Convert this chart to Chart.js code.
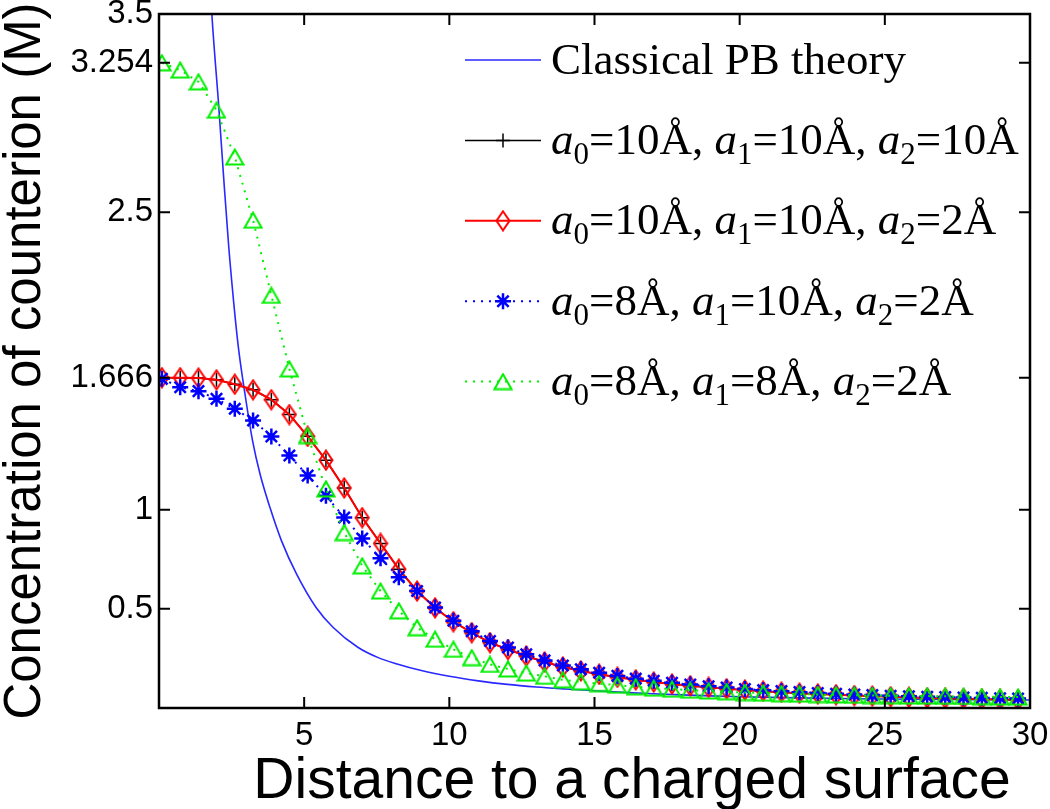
<!DOCTYPE html>
<html>
<head>
<meta charset="utf-8">
<script src="https://cdn.jsdelivr.net/npm/chart.js@4.4.0/dist/chart.umd.min.js"></script>
<style>
html,body{margin:0;padding:0;background:#fff;}
#wrap{width:1050px;height:809px;}
</style>
</head>
<body>
<div id="wrap"><canvas id="c" width="1050" height="809"></canvas></div>
<script>
// ---------- data ----------
const xMarkers = [0.10,0.73,1.36,1.98,2.61,3.24,3.87,4.49,5.12,5.75,6.38,7.00,7.63,8.26,8.89,9.51,
  10.14,10.77,11.40,12.02,12.65,13.28,13.91,14.53,15.16,15.79,16.42,17.04,17.67,18.30,18.93,19.55,
  20.18,20.81,21.44,22.06,22.69,23.32,23.95,24.57,25.20,25.83,26.46,27.08,27.71,28.34,28.97,29.59];

const pbX = [1.6,1.82,2.06,2.22,2.4,2.63,2.75,2.96,3.22,3.48,3.82,4.22,4.74,5.41,6.0,6.86,7.55,8.2,
  9.0,10,11,12,13,14,15,16,17,18,19,20,22,24,26,28,30];
const pbY = [4.1,3.5,3.03,2.69,2.33,1.96,1.80,1.585,1.35,1.18,1.012,0.843,0.675,0.507,0.406,0.305,0.254,0.222,
  0.19,0.16,0.137,0.119,0.106,0.096,0.087,0.079,0.072,0.066,0.061,0.057,0.051,0.047,0.044,0.042,0.04];

const seriesBlack = [1.666,1.666,1.664,1.655,1.633,1.605,1.555,1.48,1.37,1.25,1.11,0.96,0.83,0.70,0.59,0.505,
  0.435,0.38,0.33,0.295,0.262,0.232,0.207,0.187,0.17,0.155,0.142,0.131,0.121,0.112,0.104,0.097,
  0.091,0.085,0.08,0.075,0.071,0.067,0.063,0.06,0.057,0.054,0.051,0.049,0.047,0.045,0.043,0.041];
const seriesRed = [1.666,1.666,1.664,1.655,1.633,1.605,1.555,1.48,1.37,1.25,1.11,0.96,0.83,0.70,0.59,0.505,
  0.435,0.38,0.33,0.295,0.262,0.232,0.207,0.187,0.17,0.155,0.142,0.131,0.121,0.112,0.104,0.097,
  0.091,0.085,0.08,0.075,0.071,0.067,0.063,0.06,0.057,0.054,0.051,0.049,0.047,0.045,0.043,0.041];
const seriesBlue = [1.66,1.618,1.598,1.559,1.509,1.45,1.369,1.273,1.172,1.07,0.961,0.855,0.755,0.66,0.59,0.507,
  0.44,0.387,0.338,0.305,0.271,0.24,0.214,0.195,0.178,0.162,0.148,0.137,0.127,0.118,0.11,0.103,
  0.096,0.09,0.085,0.08,0.076,0.072,0.068,0.065,0.062,0.059,0.057,0.055,0.053,0.051,0.049,0.048];
const seriesGreen = [3.254,3.217,3.158,3.015,2.779,2.46,2.081,1.71,1.374,1.105,0.885,0.717,0.59,0.49,0.405,0.347,
  0.296,0.254,0.22,0.197,0.176,0.16,0.142,0.132,0.123,0.115,0.107,0.1,0.095,0.09,0.086,0.082,
  0.078,0.075,0.072,0.07,0.068,0.066,0.064,0.063,0.062,0.061,0.06,0.059,0.058,0.057,0.056,0.055];

const xTicks = [5,10,15,20,25,30];
const yTicks = [0.5,1,1.666,2.5,3.254,3.5];
const yTickLabels = ['0.5','1','1.666','2.5','3.254','3.5'];
const xTitle = 'Distance to a charged surface';
const yTitle = 'Concentration of counterion (M)';
const legendLabels = [
  'Classical PB theory',
  'a_0=10Å, a_1=10Å, a_2=10Å',
  'a_0=10Å, a_1=10Å, a_2=2Å',
  'a_0=8Å, a_1=10Å, a_2=2Å',
  'a_0=8Å, a_1=8Å, a_2=2Å'
];

// ---------- marker images ----------
function makeDiamond(color){
  const c=document.createElement('canvas'); c.width=16; c.height=22;
  const g=c.getContext('2d'); g.strokeStyle=color; g.lineWidth=2;
  g.beginPath(); g.moveTo(8,1.5); g.lineTo(14.5,11); g.lineTo(8,20.5); g.lineTo(1.5,11); g.closePath(); g.stroke();
  return c;
}
function makeTriangle(color){
  const c=document.createElement('canvas'); c.width=20; c.height=18;
  const g=c.getContext('2d'); g.strokeStyle=color; g.lineWidth=2;
  g.beginPath(); g.moveTo(10,1.5); g.lineTo(18.5,16.5); g.lineTo(1.5,16.5); g.closePath(); g.stroke();
  return c;
}
const diamondImg = makeDiamond('#ff0000');
const triangleImg = makeTriangle('#00f000');

const pts = (xs, ys) => xs.map((x,i)=>({x:x, y:ys[i]}));

const datasets = [
  {label:legendLabels[0], data:pts(pbX,pbY), borderColor:'#2828ff', borderWidth:1.6, pointRadius:0,
   cubicInterpolationMode:'monotone', order:5},
  {label:legendLabels[1], data:pts(xMarkers,seriesBlack), borderColor:'#000000', borderWidth:1.5,
   pointStyle:'cross', pointRadius:7, pointBorderColor:'#000000', pointBorderWidth:1.5, order:4},
  {label:legendLabels[2], data:pts(xMarkers,seriesRed), borderColor:'#ff0000', borderWidth:2,
   pointStyle:diamondImg, pointRadius:8, order:3},
  {label:legendLabels[3], data:pts(xMarkers,seriesBlue), borderColor:'#0000ff', borderWidth:2, borderDash:[2,6],
   pointStyle:'star', pointRadius:8, pointBorderColor:'#0000ff', pointBorderWidth:2.5, order:2},
  {label:legendLabels[4], data:pts(xMarkers,seriesGreen), borderColor:'#00f000', borderWidth:2, borderDash:[2,6],
   pointStyle:triangleImg, pointRadius:8, order:1}
];
datasets.forEach(d=>{ d.fill=false; d.tension=0; d.pointHoverRadius=d.pointRadius; });

// ---------- plugins ----------
const boxPlugin = {
  id:'boxTicks',
  afterDraw(chart){
    const ctx=chart.ctx, a=chart.chartArea, xs=chart.scales.x, ys=chart.scales.y;
    ctx.save();
    ctx.strokeStyle='#000'; ctx.lineWidth=2.5; ctx.setLineDash([]);
    ctx.strokeRect(a.left, a.top, a.right-a.left, a.bottom-a.top);
    ctx.lineWidth=2;
    const L=11;
    ctx.beginPath();
    xTicks.forEach(v=>{ const p=xs.getPixelForValue(v);
      ctx.moveTo(p,a.bottom); ctx.lineTo(p,a.bottom-L);
      ctx.moveTo(p,a.top); ctx.lineTo(p,a.top+L); });
    yTicks.forEach(v=>{ const p=ys.getPixelForValue(v);
      ctx.moveTo(a.left,p); ctx.lineTo(a.left+L,p);
      ctx.moveTo(a.right,p); ctx.lineTo(a.right-L,p); });
    ctx.stroke();
    // x-axis title
    ctx.fillStyle='#000';
    ctx.font='57px "Liberation Sans", Arial, sans-serif';
    ctx.textAlign='center'; ctx.textBaseline='alphabetic';
    ctx.fillText(xTitle, 632, 798);
    ctx.restore();
  }
};

function drawMath(ctx, str, x, y, size){
  const fam='"Liberation Serif", "Times New Roman", serif';
  let cx=x, buf='';
  const flush=()=>{ if(buf){ ctx.font=size+'px '+fam; ctx.fillText(buf,cx,y); cx+=ctx.measureText(buf).width; buf=''; } };
  for(let k=0;k<str.length;k++){
    const ch=str[k];
    if(ch==='a' && str[k+1]==='_'){
      flush();
      ctx.font='italic '+size+'px '+fam; ctx.fillText('a',cx,y); cx+=ctx.measureText('a').width;
      const d=str[k+2];
      ctx.font=Math.round(size*0.68)+'px '+fam; ctx.fillText(d,cx,y+size*0.22); cx+=ctx.measureText(d).width;
      k+=2; continue;
    }
    buf+=ch;
  }
  flush();
}

const legendPlugin = {
  id:'mlegend',
  afterDraw(chart){
    const ctx=chart.ctx;
    ctx.save();
    const y0=60, gap=80.4, x1=465, x2=541, xm=503, xt=551;
    chart.data.datasets.forEach((ds,i)=>{
      const y=y0+i*gap;
      ctx.strokeStyle=ds.borderColor; ctx.lineWidth=ds.borderWidth;
      ctx.setLineDash(ds.borderDash||[]);
      ctx.beginPath(); ctx.moveTo(x1,y); ctx.lineTo(x2,y); ctx.stroke();
      ctx.setLineDash([]);
      if(ds.pointRadius>0){
        ctx.strokeStyle=ds.pointBorderColor||ds.borderColor;
        ctx.fillStyle='rgba(0,0,0,0)';
        ctx.lineWidth=ds.pointBorderWidth||1.5;
        Chart.helpers.drawPoint(ctx,{pointStyle:ds.pointStyle, radius:ds.pointRadius, borderWidth:ctx.lineWidth, rotation:0}, xm, y);
      }
      ctx.fillStyle='#000'; ctx.textAlign='left'; ctx.textBaseline='alphabetic';
      drawMath(ctx, ds.label, xt, y+13.5, 45);
    });
    ctx.restore();
  }
};

// ---------- chart ----------
new Chart(document.getElementById('c'), {
  type:'line',
  data:{datasets:datasets},
  options:{
    responsive:false, animation:false, devicePixelRatio:1,
    layout:{padding:{top:14, right:20, left:0, bottom:0}},
    plugins:{legend:{display:false}, tooltip:{enabled:false}},
    scales:{
      x:{type:'linear', min:0, max:30,
        afterBuildTicks:s=>{ s.ticks=xTicks.map(v=>({value:v})); },
        afterFit:s=>{ s.height=101; s.paddingLeft=0; s.paddingRight=0; },
        grid:{display:false, drawTicks:false}, border:{display:false},
        ticks:{autoSkip:false, maxRotation:0, padding:8, color:'#000',
          font:{family:'"Liberation Sans", Arial, sans-serif', size:33}}
      },
      y:{type:'linear', min:0, max:3.5,
        afterBuildTicks:s=>{ s.ticks=yTicks.map(v=>({value:v})); },
        afterFit:s=>{ s.width=159; s.paddingTop=0; s.paddingBottom=0; },
        grid:{display:false, drawTicks:false}, border:{display:false},
        ticks:{autoSkip:false, padding:6, color:'#000',
          callback:(v,i)=>yTickLabels[i],
          font:{family:'"Liberation Sans", Arial, sans-serif', size:33}},
        title:{display:true, text:yTitle, color:'#000', padding:{top:0,bottom:0},
          font:{family:'"Liberation Sans", Arial, sans-serif', size:51, lineHeight:1}}
      }
    }
  },
  plugins:[boxPlugin, legendPlugin]
});
</script>
</body>
</html>
